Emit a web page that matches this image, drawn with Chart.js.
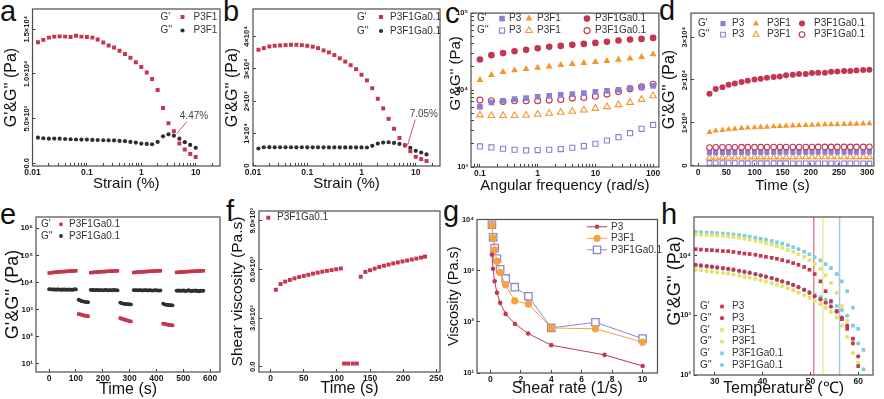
<!DOCTYPE html>
<html><head><meta charset="utf-8">
<script src="https://cdn.jsdelivr.net/npm/chart.js@4.4.1/dist/chart.umd.min.js"></script>
<style>
html,body{margin:0;padding:0;background:#fff}
body{position:relative;width:884px;height:399px;overflow:hidden;font-family:"Liberation Sans",Arial,sans-serif}
canvas{position:absolute}
.lt{position:absolute;font-size:29px;line-height:29px;color:#111;font-family:"Liberation Sans",Arial,sans-serif}
</style></head>
<body>
<div class="lt" style="left:0px;top:-3px">a</div>
<div class="lt" style="left:223px;top:-3px">b</div>
<div class="lt" style="left:445px;top:-1px">c</div>
<div class="lt" style="left:659px;top:-4px">d</div>
<div class="lt" style="left:0px;top:200px">e</div>
<div class="lt" style="left:226px;top:197px">f</div>
<div class="lt" style="left:443px;top:197px">g</div>
<div class="lt" style="left:661px;top:200px">h</div>
<script>
// ================= DATA =================
// (a) amplitude sweep, P3F1
const aStrain = [0.0126,0.0158,0.02,0.0251,0.0316,0.0398,0.0501,0.0631,0.0794,0.1,0.126,0.158,0.2,0.251,0.316,0.398,0.501,0.631,0.794,1,1.26,1.58,2,2.51,3.16,3.98,5.01,6.31,7.94,10];
const aGp  = [13530,13800,14050,14160,14190,14160,14130,14270,14160,14130,14050,13830,13500,13170,12950,12580,12210,11810,11290,10770,10160,9420,8200,6180,4480,3600,2210,1550,1030,700];
const aGpp = [2870,2800,2760,2770,2750,2720,2690,2660,2650,2650,2610,2600,2580,2570,2560,2500,2470,2390,2320,2210,2170,2130,2390,3020,3240,3090,2760,2360,2060,1730];
const aCross = 4.47;
// (b) amplitude sweep, P3F1Ga0.1
const bStrain = [0.0126,0.0158,0.02,0.0251,0.0316,0.0398,0.0501,0.0631,0.0794,0.1,0.126,0.158,0.2,0.251,0.316,0.398,0.501,0.631,0.794,1,1.26,1.58,2,2.51,3.16,3.98,5.01,6.31,7.94,10,12.6,15.8];
const bGp  = [35900,36390,36910,37120,37220,37320,37420,37420,37320,37120,36820,36390,35690,35080,34250,33240,32220,31100,29880,28140,26410,23980,20710,17740,14490,11430,8570,6330,4500,2750,2040,1430];
const bGpp = [5320,5700,5720,5690,5700,5680,5710,5690,5700,5680,5690,5670,5690,5660,5680,5650,5660,5640,5650,5660,5630,6130,6840,7150,7250,7050,6740,6230,5520,4590,4080,3470];
const bCross = 7.05;
// (c) frequency sweep
const cFreq = [0.1,0.158,0.251,0.398,0.631,1,1.585,2.512,3.981,6.31,10,15.85,25.12,39.81,63.1,100];
const cGpP3    = [6070,6900,7250,7630,7860,8170,8420,8680,8860,9130,9480,9770,10060,10570,10770,11330];
const cGppP3   = [1850,1795,1725,1675,1640,1660,1675,1710,1780,1870,2005,2210,2440,2750,3130,3520];
const cGpP3F1  = [13500,15700,17200,18100,18800,19500,20300,21100,21800,22400,23100,23800,24800,25800,26800,29100];
const cGppP3F1 = [4740,4650,4650,4650,4690,4830,4980,5130,5280,5500,5770,6070,6440,6900,7540,8420];
const cGpGa    = [25000,28400,30200,32000,33300,35000,36400,37500,38700,39800,41000,42300,44000,45300,46200,47600];
const cGppGa   = [7400,7250,7100,7250,7250,7250,7400,7540,7860,8000,8320,8860,9570,10360,11000,11920];
// (d) time sweep
const dTime = [20,31,43,54,65,77,88,100,111,122,134,145,156,168,179,191,202,213,225,236,247,259,270,281,293,304];
const dGpGa    = [16800,17900,18300,18900,19200,19500,19800,20100,20300,20500,20700,20800,21100,21200,21400,21400,21600,21700,21700,21900,22000,22100,22100,22200,22300,22400];
const dGpP3F1  = [7800,8150,8300,8450,8600,8750,8850,8900,9000,9050,9150,9200,9300,9350,9400,9450,9500,9550,9600,9600,9650,9700,9750,9750,9800,9850];
const dGppGa   = [4250,4280,4300,4300,4310,4320,4320,4330,4330,4340,4340,4350,4350,4350,4360,4360,4360,4370,4370,4370,4380,4380,4380,4390,4390,4400];
const dGpP3    = [3050,3080,3100,3110,3120,3130,3140,3140,3150,3150,3160,3160,3170,3170,3170,3180,3180,3180,3190,3190,3190,3200,3200,3200,3210,3210];
const dGppP3F1 = [1900,1920,1940,1950,1960,1970,1970,1980,1980,1990,1990,2000,2000,2000,2010,2010,2010,2020,2020,2020,2030,2030,2030,2040,2040,2040];
const dGppP3   = [640,620,610,600,600,590,590,580,580,580,570,570,570,560,560,560,560,550,550,550,550,540,540,540,540,530];
// (e) step strain recovery, P3F1Ga0.1
const eTime = [0,5,10,15,20,25,30,35,40,45,50,55,60,65,70,75,80,85,90,95,100,
  110,115,120,125,130,135,140,145,
  155,160,165,170,175,180,185,190,195,200,205,210,215,220,225,230,235,240,245,250,255,
  265,270,275,280,285,290,295,300,305,
  315,320,325,330,335,340,345,350,355,360,365,370,375,380,385,390,395,400,405,410,415,
  425,430,435,440,445,450,455,460,
  475,480,485,490,495,500,505,510,515,520,525,530,535,540,545,550,555,560,565,570,575];
const eGp = [22200,22600,23000,23300,23500,23800,24000,24300,24500,24700,24900,25100,25300,25500,25700,25900,26000,26200,26400,26600,26800,
  680,660,640,620,600,580,570,560,
  22800,23100,23400,23700,23900,24100,24300,24500,24700,24900,25100,25200,25400,25600,25700,25900,26100,26200,26400,26500,26700,
  480,460,440,425,410,395,385,370,360,
  23000,23300,23600,23800,24100,24300,24500,24700,24900,25100,25200,25400,25600,25700,25900,26100,26200,26400,26500,26700,26900,
  300,292,285,278,272,266,262,258,
  23200,23500,23800,24000,24200,24400,24600,24800,25000,25200,25300,25500,25600,25800,25900,26100,26200,26400,26500,26700,26800];
const eGpp = [5600,5500,5550,5450,5500,5400,5450,5500,5400,5350,5450,5400,5500,5350,5400,5450,5300,5400,5350,5600,5500,
  2300,2150,2050,2000,1950,1900,1880,1850,
  5300,5200,5250,5150,5200,5250,5100,5200,5150,5100,5200,5250,5150,5100,5200,5150,5100,5250,5200,5150,5100,
  1800,1700,1650,1620,1600,1580,1560,1550,1540,
  5200,5150,5200,5100,5150,5200,5100,5050,5150,5200,5100,5050,5150,5100,5000,5100,5150,5050,5100,5000,5050,
  1650,1550,1500,1480,1460,1440,1430,1420,
  5000,4900,5050,4850,4950,5100,4900,4800,5000,5150,4900,4750,5000,4850,5100,4800,4950,4700,5000,4850,4950];
// (f) shear viscosity recovery, P3F1Ga0.1
const fTime = [8,15,22,29,36,43,50,57,64,71,78,85,92,99,106, 111,117,124,130, 136,143,150,157,164,171,178,185,192,199,206,213,220,227,233];
const fVisc = [4750,5100,5250,5350,5450,5530,5600,5670,5740,5800,5860,5910,5960,6010,6060, 200,200,200,200, 5550,5850,5950,6050,6150,6230,6300,6370,6430,6490,6550,6610,6670,6730,6790];
// (g) viscosity vs shear rate
const gRateP3 = [0.1,0.17,0.28,0.43,0.64,1.0,1.62,2.48,4.0,7.5,10];
const gViscP3 = [2060,1090,620,370,235,143,91,59,35,22.6,13.7];
const gRate   = [0.1,0.18,0.28,0.43,0.64,1.0,1.6,2.5,4.0,6.9,10];
const gViscP3F1 = [7680,4400,2560,1535,919,526,257,222,76,73,40];
const gViscGa   = [7910,4470,2760,1725,1065,706,476,315,76,98,47];
// (h) temperature sweep
const hTemp = [26.0,27.1,28.3,29.4,30.5,31.7,32.8,33.9,35.1,36.2,37.3,38.5,39.6,40.7,41.9,43.0,44.1,45.3,46.4,47.5,48.7,49.8,50.9,52.1,53.2,54.3,55.5,56.6,57.7,58.9,60.0,61.1];
const hGpP3    = [12800,12600,12400,12300,12100,11900,11800,11500,11100,10800,10600,10300,9890,9520,9170,8820,8390,7960,7470,7010,6430,5790,4900,3700,2530,1730,1180,860,592,338,141,null];
const hGppP3   = [7010,6840,6670,6500,6340,6170,6010,5790,5570,5370,5170,4900,4660,4430,4210,3950,3700,3480,3220,2950,2660,2370,2090,1840,1620,1400,1150,916,670,408,205,null];
const hGpP3F1  = [22600,22300,22300,21900,21700,21400,20900,20400,19900,19100,18400,17700,16900,16000,15300,14400,13500,12400,11500,10500,9520,8390,7190,6010,4660,3480,2370,1430,808,383,160,null];
const hGppP3F1 = [5790,5650,5500,5370,5230,5100,4970,4780,4610,4430,4270,4050,3850,3650,3480,3260,3060,2840,2630,2400,2160,1960,1750,1540,1340,1140,916,670,434,232,95,null];
const hGpGa    = [24900,24600,24300,24100,23700,23400,22900,22600,21900,21400,20600,19900,19100,18400,17500,16700,15900,14900,13800,12800,11600,10500,9400,8280,7190,6170,4900,3700,2530,1340,592,263];
const hGppGa   = [6840,6670,6500,6340,6170,6010,5860,5650,5430,5230,5040,4840,4610,4380,4160,3900,3650,3430,3180,2950,2690,2460,2220,2010,1820,1620,1430,1220,980,670,338,124];
const hCrossT = [50.7, 52.6, 56.1];

// tick values & labels
const strainTicks = [0.01,0.1,1,10], strainLabels = ['0.01','0.1','1','10'];
const strainMinor = [0.02,0.03,0.04,0.05,0.06,0.07,0.08,0.09,0.2,0.3,0.4,0.5,0.6,0.7,0.8,0.9,2,3,4,5,6,7,8,9,20];
const aYTicks = [0,5000,10000,15000], aYLabels = ['0.0','5.0×10³','1.0×10⁴','1.5×10⁴'];
const bYTicks = [0,10000,20000,30000,40000], bYLabels = ['0','1×10⁴','2×10⁴','3×10⁴','4×10⁴'];
const freqTicks = [0.1,1,10,100], freqLabels = ['0.1','1','10','100'];
const freqMinor = [0.08,0.09,0.2,0.3,0.4,0.5,0.6,0.7,0.8,0.9,2,3,4,5,6,7,8,9,20,30,40,50,60,70,80,90];
const cYTicks = [1000,10000,100000], cYLabels = ['10³','10⁴','10⁵'];
const cYMinor = [2000,3000,4000,5000,6000,7000,8000,9000,20000,30000,40000,50000,60000,70000,80000,90000];
const dXTicks = [0,50,100,150,200,250,300], dXLabels = ['0','50','100','150','200','250','300'];
const dYTicks = [0,10000,20000,30000], dYLabels = ['0','1×10⁴','2×10⁴','3×10⁴'];
const eXTicks = [0,100,200,300,400,500,600], eXLabels = ['0','100','200','300','400','500','600'];
const eYTicks = [10,100,1000,10000,100000,1000000], eYLabels = ['10¹','10²','10³','10⁴','10⁵','10⁶'];
const fXTicks = [0,50,100,150,200,250], fXLabels = ['0','50','100','150','200','250'];
const fYTicks = [0,3000,6000,9000], fYLabels = ['0.0','3.0×10³','6.0×10³','9.0×10³'];
const gXTicks = [0,2,4,6,8,10], gXLabels = ['0','2','4','6','8','10'];
const gYTicks = [10,100,1000,10000], gYLabels = ['10¹','10²','10³','10⁴'];
const hXTicks = [30,40,50,60], hXLabels = ['30','40','50','60'];
const hYTicks = [100,1000,10000], hYLabels = ['10²','10³','10⁴'];

// ================= STYLE / HELPERS =================
const FONT = '"Liberation Sans", Arial, sans-serif';
Chart.defaults.font.family = FONT;
Chart.defaults.animation = false;
Chart.defaults.events = [];
const COL = { red:'#c4364f', black:'#2f2f2f', purple:'#8a7fd4', orange:'#f5962e', yellow:'#e4e26a', cyan:'#7ccfe0',
  gRed:'#c13a52', gOrange:'#f6a23a', gPurple:'#8f87d2' };
const NONE = 'rgba(0,0,0,0)';
const M = {
  sqS:   {style:'rect', r:2.8, bg:COL.red, bc:COL.red, bw:0},
  ciS:   {style:'circle', r:2.1, bg:COL.black, bc:COL.black, bw:0},
  cSqF:  {style:'rect', r:4.0, bg:COL.purple, bc:COL.purple, bw:0},
  cSqO:  {style:'rect', r:3.6, bg:NONE, bc:COL.purple, bw:1.1},
  cTrF:  {style:'triangle', r:4.0, bg:COL.orange, bc:COL.orange, bw:0},
  cTrO:  {style:'triangle', r:3.8, bg:NONE, bc:COL.orange, bw:1.1},
  cCiF:  {style:'circle', r:3.3, bg:COL.red, bc:COL.red, bw:0},
  cCiO:  {style:'circle', r:3.0, bg:NONE, bc:COL.red, bw:1.1},
  dSqF:  {style:'rect', r:3.6, bg:COL.purple, bc:COL.purple, bw:0},
  dSqO:  {style:'rect', r:3.3, bg:NONE, bc:COL.purple, bw:1.1},
  dTrF:  {style:'triangle', r:3.6, bg:COL.orange, bc:COL.orange, bw:0},
  dTrO:  {style:'triangle', r:3.4, bg:NONE, bc:COL.orange, bw:1.1},
  dCiF:  {style:'circle', r:3.0, bg:COL.red, bc:COL.red, bw:0},
  dCiO:  {style:'circle', r:2.8, bg:NONE, bc:COL.red, bw:1.1},
  eSq:   {style:'rect', r:2.4, bg:COL.red, bc:COL.red, bw:0},
  eCi:   {style:'circle', r:1.9, bg:COL.black, bc:COL.black, bw:0},
  fSq:   {style:'rect', r:2.8, bg:COL.red, bc:COL.red, bw:0},
  gP3:   {style:'circle', r:2.3, bg:COL.gRed, bc:COL.gRed, bw:0},
  gP3F1: {style:'circle', r:3.6, bg:COL.gOrange, bc:COL.gOrange, bw:0},
  gGa:   {style:'rect', r:5.2, bg:'#ffffff', bc:COL.gPurple, bw:1.3},
  hSqR:  {style:'rect', r:2.6, bg:COL.red, bc:COL.red, bw:0},
  hCiR:  {style:'circle', r:2.1, bg:COL.red, bc:COL.red, bw:0},
  hSqY:  {style:'rect', r:2.6, bg:COL.yellow, bc:COL.yellow, bw:0},
  hCiY:  {style:'circle', r:2.1, bg:COL.yellow, bc:COL.yellow, bw:0},
  hSqC:  {style:'rect', r:2.6, bg:COL.cyan, bc:COL.cyan, bw:0},
  hCiC:  {style:'circle', r:2.1, bg:COL.cyan, bc:COL.cyan, bw:0}
};

function measureMax(labels, size) {
  const c = document.createElement('canvas').getContext('2d');
  c.font = 'bold ' + size + 'px ' + FONT;
  return Math.max.apply(null, labels.map(t => c.measureText(t).width));
}
function pts(xs, ys) {
  return xs.map((x, i) => ({x: x, y: ys[i]})).filter(p => p.y !== null && p.y !== undefined);
}
function ds(xs, ys, m, line) {
  return {
    data: pts(xs, ys), pointStyle: m.style, pointRadius: m.r, pointBackgroundColor: m.bg,
    pointBorderColor: m.bc, pointBorderWidth: m.bw, showLine: !!line, borderColor: line || m.bc,
    borderWidth: 1, backgroundColor: m.bg, tension: 0
  };
}
function marker(ctx, m, x, y) {
  ctx.save();
  ctx.fillStyle = m.bg; ctx.strokeStyle = m.bc; ctx.lineWidth = m.bw;
  ctx.beginPath();
  if (m.style === 'rect') { const s = Math.SQRT1_2 * m.r; ctx.rect(x - s, y - s, 2 * s, 2 * s); }
  else if (m.style === 'triangle') {
    let rad = 0;
    ctx.moveTo(x + Math.sin(rad) * m.r, y - Math.cos(rad) * m.r); rad += 2 * Math.PI / 3;
    ctx.lineTo(x + Math.sin(rad) * m.r, y - Math.cos(rad) * m.r); rad += 2 * Math.PI / 3;
    ctx.lineTo(x + Math.sin(rad) * m.r, y - Math.cos(rad) * m.r); ctx.closePath();
  } else { ctx.arc(x, y, m.r, 0, Math.PI * 2); }
  ctx.fill(); if (m.bw > 0) ctx.stroke();
  ctx.restore();
}
const extras = {};
const pluginExtras = {
  id: 'extras',
  beforeDatasetsDraw(chart) {
    const e = extras[chart.canvas.id]; if (!e || !e.vlines) return;
    const ctx = chart.ctx, a = chart.chartArea, xs = chart.scales.x;
    e.vlines.forEach(v => {
      const px = xs.getPixelForValue(v.x);
      ctx.save(); ctx.strokeStyle = v.c; ctx.lineWidth = 1.5;
      ctx.beginPath(); ctx.moveTo(px, a.top); ctx.lineTo(px, a.bottom); ctx.stroke(); ctx.restore();
    });
  },
  afterDatasetsDraw(chart) {
    const ctx = chart.ctx, a = chart.chartArea;
    ctx.save(); ctx.strokeStyle = '#4d4d4d'; ctx.lineWidth = 1.2;
    ctx.strokeRect(a.left, a.top, a.right - a.left, a.bottom - a.top); ctx.restore();
    const e = extras[chart.canvas.id]; if (!e) return;
    const xs = chart.scales.x, ys = chart.scales.y;
    if (e.annot) {
      const n = e.annot;
      ctx.save(); ctx.strokeStyle = '#d0506c'; ctx.lineWidth = 1;
      ctx.beginPath(); ctx.moveTo(xs.getPixelForValue(n.x1), ys.getPixelForValue(n.y1));
      ctx.lineTo(xs.getPixelForValue(n.x2), ys.getPixelForValue(n.y2)); ctx.stroke();
      ctx.fillStyle = '#444'; ctx.font = '10px ' + FONT; ctx.textAlign = 'center'; ctx.textBaseline = 'middle';
      ctx.fillText(n.text, xs.getPixelForValue(n.tx), ys.getPixelForValue(n.ty)); ctx.restore();
    }
    if (e.legend) {
      const L = e.legend;
      ctx.save(); ctx.font = (L.size || 10) + 'px ' + FONT; ctx.textBaseline = 'middle'; ctx.textAlign = 'left';
      L.rows.forEach((row, i) => {
        const y = a.top + L.y + i * L.dy;
        row.forEach(c => {
          const x = a.left + c.x;
          if (c.line) { ctx.strokeStyle = c.line; ctx.lineWidth = 1; ctx.beginPath(); ctx.moveTo(x - c.half, y); ctx.lineTo(x + c.half, y); ctx.stroke(); }
          if (c.m) marker(ctx, c.m, x, y);
          if (c.t !== undefined) { ctx.fillStyle = '#333'; ctx.fillText(c.t, x, y); }
        });
      });
      ctx.restore();
    }
  }
};

function tickSet(o) {
  const lab = new Map(o.major.map((v, i) => [v, o.labels[i]]));
  const all = o.major.concat(o.minor || []).sort((p, q) => p - q);
  return {lab, all};
}
function axisX(G, top, h, o) {
  const T = tickSet(o);
  return {
    type: o.type || 'linear', position: 'bottom', min: o.min, max: o.max,
    afterFit(s) { s.height = top + h - G.b; s.paddingLeft = 0; s.paddingRight = 0; },
    afterBuildTicks(s) { s.ticks = T.all.map(v => ({value: v})); },
    ticks: { autoSkip: false, minRotation: 0, maxRotation: 0, padding: 5, color: '#1a1a1a',
      font: {size: 8.5, weight: 'bold'}, callback: v => (T.lab.has(v) ? T.lab.get(v) : '') },
    grid: { drawOnChartArea: false, drawTicks: true, tickLength: -3, tickColor: '#444', tickWidth: 1 },
    border: { display: false },
    title: { display: true, text: o.title, color: '#111', font: {size: o.ts || 15}, padding: 0 }
  };
}
function axisY(G, left, o) {
  const T = tickSet(o);
  const rot = !!o.rot, fs = o.fs || (rot ? 7.5 : 8);
  let pad = 6;
  if (rot) pad = 9 - measureMax(o.labels, fs) / 2;
  // o.shift moves the (rotated) title upward along the axis by padding the start of the string
  const title = (o.shift ? ' '.repeat(o.shift) : '') + o.title;
  return {
    type: o.type || 'linear', position: 'left', min: o.min, max: o.max,
    afterFit(s) { s.width = G.l - left; s.paddingTop = 0; s.paddingBottom = 0; },
    afterBuildTicks(s) { s.ticks = T.all.map(v => ({value: v})); },
    ticks: { autoSkip: false, minRotation: rot ? 90 : 0, maxRotation: rot ? 90 : 0, crossAlign: rot ? 'center' : 'near',
      padding: pad, color: '#1a1a1a', font: {size: fs, weight: 'bold'}, callback: v => (T.lab.has(v) ? T.lab.get(v) : '') },
    grid: { drawOnChartArea: false, drawTicks: true, tickLength: -3, tickColor: '#444', tickWidth: 1 },
    border: { display: false },
    title: { display: true, text: title, color: '#111', font: {size: o.ts || 16}, padding: 0 }
  };
}
function build(id, G, spec) {
  const left = Math.round(G.cl), top = Math.round(G.t - 2);
  const w = Math.round(G.r + 2 - left), h = Math.round(G.tb - top);
  const cv = document.createElement('canvas');
  cv.id = id; cv.width = w; cv.height = h;
  cv.style.left = left + 'px'; cv.style.top = top + 'px'; cv.style.width = w + 'px'; cv.style.height = h + 'px';
  document.body.appendChild(cv);
  extras[id] = spec.extras || {};
  new Chart(cv, {
    type: 'scatter',
    data: { datasets: spec.datasets },
    options: {
      responsive: false, animation: false, events: [],
      layout: { padding: { top: G.t - top, right: left + w - G.r, left: 0, bottom: 0 } },
      scales: { x: axisX(G, top, h, spec.x), y: axisY(G, left, spec.y) },
      plugins: { legend: { display: false }, tooltip: { enabled: false } }
    },
    plugins: [pluginExtras]
  });
}
const GP = "G'&G'' (Pa)";

// ---- (a)
build('ca', {l:32.5, r:222, t:7, b:166, cl:2, tb:192.5}, {
  datasets: [ds(aStrain, aGp, M.sqS), ds(aStrain, aGpp, M.ciS)],
  x: {type:'logarithmic', min:0.01, max:28, major:strainTicks, labels:strainLabels, minor:strainMinor, title:'Strain (%)'},
  y: {min:-300, max:17250, major:aYTicks, labels:aYLabels, rot:true, title:GP, ts:16},
  extras: {
    annot: {x1:aCross, y1:3300, x2:6.9, y2:4670, text:aCross + '%', tx:9.3, ty:5280},
    legend: {y:8, dy:13.5, rows:[
      [{x:128, t:"G'"}, {x:150, m:M.sqS}, {x:161, t:'P3F1'}],
      [{x:128, t:"G''"}, {x:150, m:M.ciS}, {x:161, t:'P3F1'}]]}
  }
});
// ---- (b)
build('cb', {l:253, r:442, t:7, b:166, cl:223.4, tb:193}, {
  datasets: [ds(bStrain, bGp, M.sqS), ds(bStrain, bGpp, M.ciS)],
  x: {type:'logarithmic', min:0.01, max:28, major:strainTicks, labels:strainLabels, minor:strainMinor, title:'Strain (%)'},
  y: {min:-100, max:48500, major:bYTicks, labels:bYLabels, rot:true, title:GP, ts:16},
  extras: {
    annot: {x1:bCross, y1:6300, x2:9.8, y2:14280, text:bCross + '%', tx:14.1, ty:15810},
    legend: {y:8, dy:14, rows:[
      [{x:104, t:"G'"}, {x:128, m:M.sqS}, {x:137, t:'P3F1Ga0.1'}],
      [{x:104, t:"G''"}, {x:128, m:M.ciS}, {x:137, t:'P3F1Ga0.1'}]]}
  }
});
// ---- (c)
build('cc', {l:471, r:662, t:10, b:167, cl:447, tb:194.5}, {
  datasets: [
    ds(cFreq, cGpP3, M.cSqF), ds(cFreq, cGpP3F1, M.cTrF), ds(cFreq, cGpGa, M.cCiF),
    ds(cFreq, cGppP3, M.cSqO), ds(cFreq, cGppP3F1, M.cTrO), ds(cFreq, cGppGa, M.cCiO)],
  x: {type:'logarithmic', min:0.07, max:126, major:freqTicks, labels:freqLabels, minor:freqMinor, title:'Angular frequency (rad/s)'},
  y: {type:'logarithmic', min:1000, max:100000, major:cYTicks, labels:cYLabels, minor:cYMinor, fs:7.5, title:GP, ts:15, shift:8},
  extras: {
    legend: {y:5.5, dy:12, rows:[
      [{x:6, t:"G'"}, {x:31, m:M.cSqF}, {x:38, t:'P3'}, {x:58, m:M.cTrF}, {x:66, t:'P3F1'}, {x:116, m:M.cCiF}, {x:124, t:'P3F1Ga0.1'}],
      [{x:6, t:"G''"}, {x:31, m:M.cSqO}, {x:38, t:'P3'}, {x:58, m:M.cTrO}, {x:66, t:'P3F1'}, {x:116, m:M.cCiO}, {x:124, t:'P3F1Ga0.1'}]]}
  }
});
// ---- (d)
build('cd', {l:691, r:877, t:10, b:166, cl:660.4, tb:195}, {
  datasets: [
    ds(dTime, dGpGa, M.dCiF), ds(dTime, dGpP3F1, M.dTrF), ds(dTime, dGppGa, M.dCiO),
    ds(dTime, dGpP3, M.dSqF), ds(dTime, dGppP3F1, M.dTrO), ds(dTime, dGppP3, M.dSqO)],
  x: {min:-12.8, max:312, major:dXTicks, labels:dXLabels, title:'Time (s)'},
  y: {min:-70, max:35600, major:dYTicks, labels:dYLabels, rot:true, title:GP, ts:16},
  extras: {
    legend: {y:10.5, dy:11, rows:[
      [{x:7, t:"G'"}, {x:32, m:M.dSqF}, {x:41, t:'P3'}, {x:65, m:M.dTrF}, {x:76, t:'P3F1'}, {x:111, m:M.dCiF}, {x:123, t:'P3F1Ga0.1'}],
      [{x:7, t:"G''"}, {x:32, m:M.dSqO}, {x:41, t:'P3'}, {x:65, m:M.dTrO}, {x:76, t:'P3F1'}, {x:111, m:M.dCiO}, {x:123, t:'P3F1Ga0.1'}]]}
  }
});
// ---- (e)
build('ce', {l:36, r:222, t:215, b:372, cl:2.2, tb:399}, {
  datasets: [ds(eTime, eGp, M.eSq), ds(eTime, eGpp, M.eCi)],
  x: {min:-49, max:637, major:eXTicks, labels:eXLabels, title:'Time (s)', ts:16},
  y: {type:'logarithmic', min:4.9, max:2.6e6, major:eYTicks, labels:eYLabels, fs:8, title:GP, ts:18},
  extras: {
    legend: {y:7.3, dy:11.7, rows:[
      [{x:5, t:"G'"}, {x:25, m:M.eSq}, {x:33, t:'P3F1Ga0.1'}],
      [{x:5, t:"G''"}, {x:25, m:M.eCi}, {x:33, t:'P3F1Ga0.1'}]]}
  }
});
// ---- (f)
build('cf', {l:259, r:442, t:209, b:372, cl:227.7, tb:397.6}, {
  datasets: [ds(fTime, fVisc, M.fSq)],
  x: {min:-17.5, max:255.6, major:fXTicks, labels:fXLabels, title:'Time (s)', ts:16},
  y: {min:-320, max:9600, major:fYTicks, labels:fYLabels, rot:true, title:'Shear viscosity (Pa.s)', ts:15.5},
  extras: {
    legend: {y:6.7, dy:12, rows:[[{x:9.3, m:M.fSq}, {x:18, t:'P3F1Ga0.1'}]]}
  }
});
// ---- (g)
build('cg', {l:477, r:662, t:215, b:373, cl:444.6, tb:397.6}, {
  datasets: [ds(gRateP3, gViscP3, M.gP3, COL.gRed), ds(gRate, gViscP3F1, M.gP3F1, COL.gOrange), ds(gRate, gViscGa, M.gGa, COL.gPurple)],
  x: {min:-0.88, max:10.98, major:gXTicks, labels:gXLabels, title:'Shear rate (1/s)', ts:16},
  y: {type:'logarithmic', min:10, max:10000, major:gYTicks, labels:gYLabels, fs:7.5, title:'Viscosity (Pa.s)', ts:14.5},
  extras: {
    legend: {y:7.3, dy:11.5, rows:[
      [{x:120, line:COL.gRed, half:10, m:M.gP3}, {x:134, t:'P3'}],
      [{x:120, line:COL.gOrange, half:10, m:M.gP3F1}, {x:134, t:'P3F1'}],
      [{x:120, line:COL.gPurple, half:10, m:M.gGa}, {x:134, t:'P3F1Ga0.1'}]]}
  }
});
// ---- (h)
build('ch', {l:694, r:875, t:215, b:375, cl:663.6, tb:397.6}, {
  datasets: [
    ds(hTemp, hGpP3, M.hSqR), ds(hTemp, hGppP3, M.hCiR), ds(hTemp, hGpP3F1, M.hSqY),
    ds(hTemp, hGppP3F1, M.hCiY), ds(hTemp, hGpGa, M.hSqC), ds(hTemp, hGppGa, M.hCiC)],
  x: {min:25.65, max:63.1, major:hXTicks, labels:hXLabels, title:'Temperature (℃)', ts:16},
  y: {type:'logarithmic', min:100, max:44200, major:hYTicks, labels:hYLabels, fs:7.5, title:GP, ts:18, shift:6},
  extras: {
    vlines: [{x:hCrossT[0], c:'#e2878f'}, {x:hCrossT[1], c:'#ebea9b'}, {x:hCrossT[2], c:'#a5c8ea'}],
    legend: {y:89.5, dy:11.7, rows:[
      [{x:6, t:"G'"}, {x:28, m:M.hSqR}, {x:38, t:'P3'}],
      [{x:6, t:"G''"}, {x:28, m:M.hCiR}, {x:38, t:'P3'}],
      [{x:6, t:"G'"}, {x:28, m:M.hSqY}, {x:38, t:'P3F1'}],
      [{x:6, t:"G''"}, {x:28, m:M.hCiY}, {x:38, t:'P3F1'}],
      [{x:6, t:"G'"}, {x:28, m:M.hSqC}, {x:38, t:'P3F1Ga0.1'}],
      [{x:6, t:"G''"}, {x:28, m:M.hCiC}, {x:38, t:'P3F1Ga0.1'}]]}
  }
});
</script>
</body></html>
